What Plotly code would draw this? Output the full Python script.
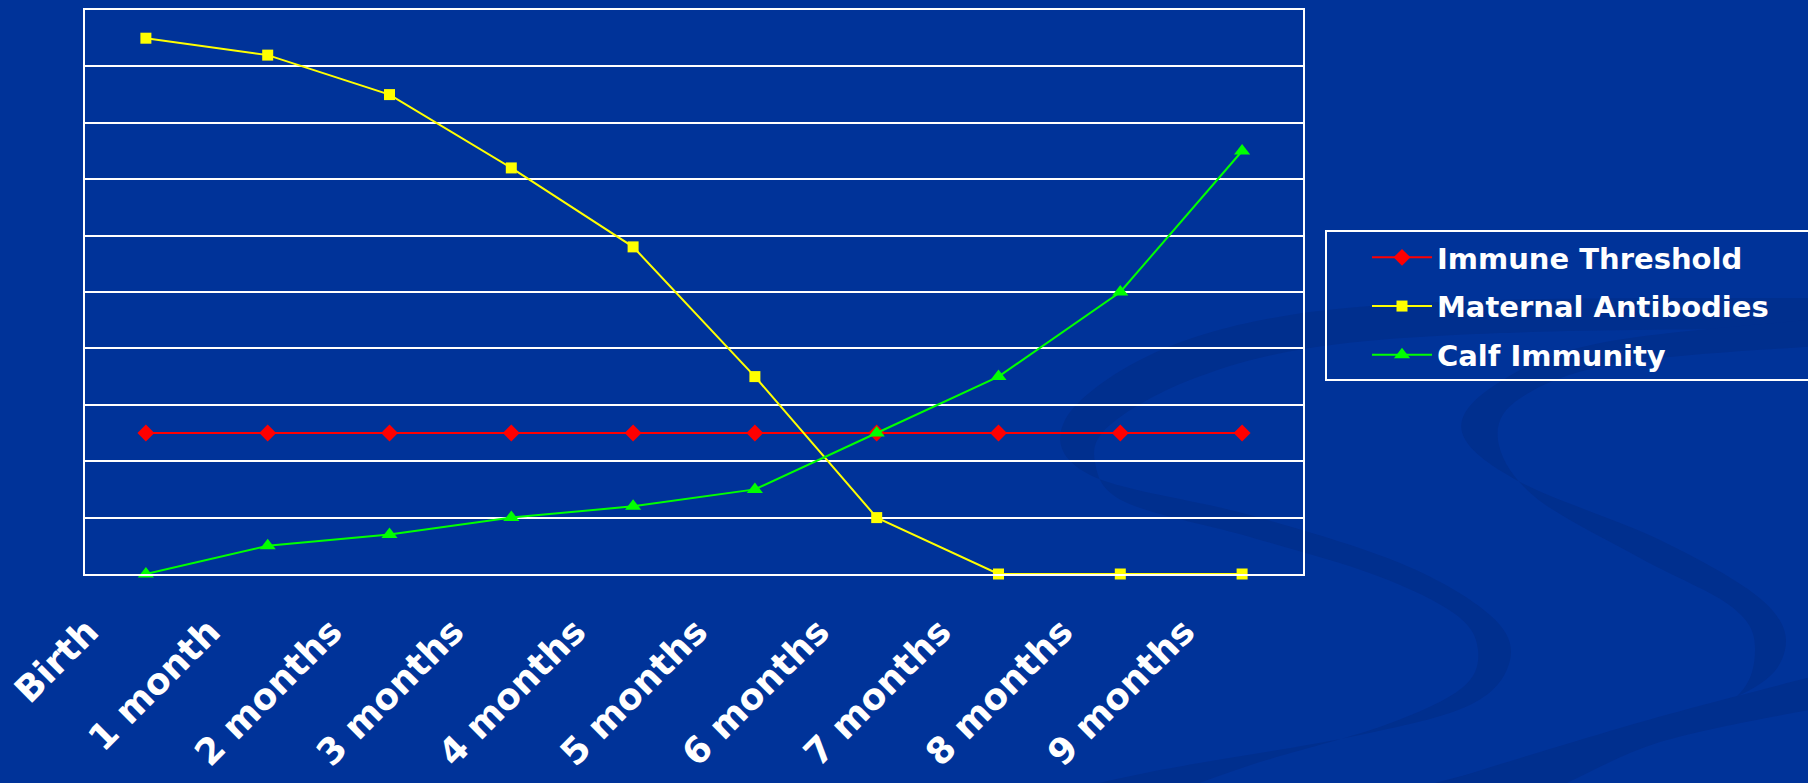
import plotly.graph_objects as go

categories = ["Birth", "1 month", "2 months", "3 months", "4 months",
              "5 months", "6 months", "7 months", "8 months", "9 months"]
immune_threshold = [2.5, 2.5, 2.5, 2.5, 2.5, 2.5, 2.5, 2.5, 2.5, 2.5]
maternal_antibodies = [9.5, 9.2, 8.5, 7.2, 5.8, 3.5, 1.0, 0, 0, 0]
calf_immunity = [0, 0.5, 0.7, 1.0, 1.2, 1.5, 2.5, 3.5, 5.0, 7.5]

W, H = 1808, 783
L, R, T, B = 85, 1303, 10, 574


def to_paper(p):
    x, y = p
    return (x - L) / (R - L), (B - y) / (B - T)


def smooth_closed(pts):
    """Catmull-Rom through pixel points -> cubic bezier path in paper coords."""
    P = [to_paper(p) for p in pts]
    n = len(P)
    s = f"M {P[0][0]:.4f},{P[0][1]:.4f}"
    for i in range(n - 1):
        p0 = P[i - 1] if i > 0 else P[i]
        p1 = P[i]
        p2 = P[i + 1]
        p3 = P[i + 2] if i + 2 < n else P[i + 1]
        c1 = (p1[0] + (p2[0] - p0[0]) / 6, p1[1] + (p2[1] - p0[1]) / 6)
        c2 = (p2[0] - (p3[0] - p1[0]) / 6, p2[1] - (p3[1] - p1[1]) / 6)
        s += (f" C {c1[0]:.4f},{c1[1]:.4f} {c2[0]:.4f},{c2[1]:.4f}"
              f" {p2[0]:.4f},{p2[1]:.4f}")
    return s + " Z"


band1 = smooth_closed(
    [(1830, 298), (1500, 300), (1290, 315), (1150, 355), (1065, 420),
     (1090, 475), (1250, 515), (1400, 563), (1490, 615), (1510, 660),
     (1470, 705), (1350, 737), (1150, 772), (1040, 800)]
    + [(1140, 800), (1260, 762), (1385, 725), (1462, 688), (1478, 650),
       (1455, 614), (1375, 575), (1250, 537), (1125, 502), (1095, 462),
       (1110, 425), (1190, 380), (1310, 348), (1500, 333), (1830, 328)]
)
band2 = smooth_closed(
    [(1830, 318), (1600, 343), (1495, 385), (1462, 432), (1520, 482),
     (1660, 540), (1762, 600), (1785, 650), (1740, 695), (1590, 742),
     (1380, 800)]
    + [(1480, 800), (1620, 748), (1730, 702), (1755, 650), (1732, 607),
       (1640, 558), (1535, 497), (1498, 440), (1522, 397), (1620, 363),
       (1830, 345)]
)
band3 = smooth_closed(
    [(1830, 672), (1620, 728), (1400, 800), (1520, 800), (1660, 742),
     (1830, 706)]
)

swoosh = "#002f8e"
shapes = [dict(type="path", path=p, xref="paper", yref="paper",
               fillcolor=swoosh, line=dict(width=0), layer="below")
          for p in (band1, band2, band3)]

# legend frame (runs off the right edge, as in the reference)
lx0, ly0 = to_paper((1326, 231))
lx1, ly1 = to_paper((1830, 380))
shapes.append(dict(type="rect", xref="paper", yref="paper",
                   x0=lx0, x1=lx1, y0=ly1, y1=ly0,
                   line=dict(color="white", width=2),
                   fillcolor="rgba(0,0,0,0)", layer="above"))

fig = go.Figure()
fig.add_trace(go.Scatter(
    x=categories, y=immune_threshold, name="Immune Threshold",
    mode="lines+markers", legendgroup="a", cliponaxis=False,
    line=dict(color="#ff0000", width=2),
    marker=dict(symbol="diamond", size=13, color="#ff0000")))
fig.add_trace(go.Scatter(
    x=categories, y=maternal_antibodies, name="Maternal Antibodies",
    mode="lines+markers", legendgroup="b", cliponaxis=False,
    line=dict(color="#ffff00", width=2),
    marker=dict(symbol="square", size=11, color="#ffff00")))
fig.add_trace(go.Scatter(
    x=categories, y=calf_immunity, name="Calf Immunity",
    mode="lines+markers", legendgroup="c", cliponaxis=False,
    line=dict(color="#00ff00", width=2),
    marker=dict(symbol="triangle-up", size=14, color="#00ff00")))

font_family = "DejaVu Sans, Verdana, sans-serif"

fig.update_layout(
    width=W, height=H,
    margin=dict(l=L, r=W - R, t=T, b=H - B, autoexpand=False),
    paper_bgcolor="#003399",
    plot_bgcolor="rgba(0,0,0,0)",
    shapes=shapes,
    showlegend=True,
    legend=dict(
        x=(1327 - L) / (R - L), y=(B - 232) / (B - T),
        xanchor="left", yanchor="top",
        bgcolor="rgba(0,0,0,0)", borderwidth=0,
        font=dict(family=font_family, size=29, color="white", weight="bold"),
        tracegroupgap=8, itemwidth=60, indentation=40,
    ),
    xaxis=dict(
        type="category", range=[-0.5, 9.5],
        showgrid=False, zeroline=False,
        showline=True, mirror=True, linecolor="white", linewidth=2,
        ticks="", tickangle=-45,
        tickfont=dict(family=font_family, size=36, color="white", weight="bold"),
        ticklabelshift=-58, ticklabelstandoff=20,
    ),
    yaxis=dict(
        range=[0, 10], dtick=1, tick0=0,
        showgrid=True, gridcolor="white", gridwidth=2,
        zeroline=False, showticklabels=False,
        showline=True, mirror=True, linecolor="white", linewidth=2,
        ticks="",
    ),
)

fig.write_html("out.html")
